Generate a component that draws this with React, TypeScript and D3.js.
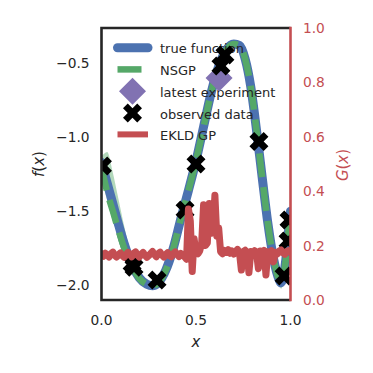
import * as d3 from 'd3'

// true function / NSGP
const gridX = [0, 0.03, 0.06, 0.09, 0.12, 0.16, 0.2, 0.24, 0.27, 0.3, 0.34, 0.38, 0.42, 0.46, 0.5, 0.54, 0.58, 0.62, 0.66, 0.7, 0.73, 0.76, 0.79, 0.82, 0.85, 0.88, 0.91, 0.94, 0.95, 0.96, 0.975, 0.99, 1.0]
const truthF = [-1.17, -1.31, -1.45, -1.59, -1.72, -1.86, -1.95, -1.995, -2.005, -1.985, -1.9, -1.75, -1.55, -1.36, -1.16, -0.93, -0.7, -0.52, -0.41, -0.37, -0.38, -0.47, -0.66, -0.95, -1.27, -1.58, -1.82, -1.965, -1.985, -1.955, -1.83, -1.63, -1.5]
const nsgpMean = [-1.2, -1.37, -1.5, -1.63, -1.75, -1.87, -1.955, -1.995, -2.005, -1.985, -1.9, -1.75, -1.55, -1.36, -1.16, -0.93, -0.7, -0.52, -0.41, -0.37, -0.38, -0.47, -0.66, -0.95, -1.27, -1.58, -1.82, -1.965, -1.985, -1.955, -1.83, -1.63, -1.5]
const nsgpHigh = [-1.13, -1.1, -1.24, -1.42, -1.6, -1.8, -1.925, -1.97, -1.98, -1.96, -1.875, -1.725, -1.525, -1.335, -1.135, -0.905, -0.675, -0.495, -0.385, -0.345, -0.355, -0.445, -0.635, -0.925, -1.245, -1.555, -1.79, -1.93, -1.945, -1.91, -1.79, -1.6, -1.46]
const nsgpLow = [-1.26, -1.43, -1.56, -1.68, -1.79, -1.9, -1.985, -2.02, -2.03, -2.01, -1.925, -1.775, -1.575, -1.385, -1.185, -0.955, -0.725, -0.545, -0.435, -0.395, -0.405, -0.495, -0.685, -0.975, -1.295, -1.605, -1.85, -2.0, -2.025, -2.0, -1.87, -1.66, -1.54]

const obsX = [0.005, 0.162, 0.172, 0.294, 0.442, 0.5, 0.632, 0.653, 0.833, 0.966, 0.987, 0.992]
const obsF = [-1.195, -1.855, -1.88, -1.966, -1.492, -1.181, -0.518, -0.444, -1.029, -1.939, -1.702, -1.56]

const latestX = [0.622]
const latestF = [-0.599]

// EKLD GP on x = 0, 0.01, ... 1
const ekld = [
  0.168, 0.161, 0.172, 0.165, 0.158, 0.17, 0.176, 0.164, 0.158, 0.167,
  0.173, 0.163, 0.157, 0.166, 0.175, 0.168, 0.159, 0.171, 0.177, 0.165,
  0.158, 0.168, 0.175, 0.164, 0.157, 0.163, 0.171, 0.178, 0.167, 0.159,
  0.17, 0.176, 0.165, 0.158, 0.167, 0.174, 0.163, 0.159, 0.17, 0.177,
  0.167, 0.16, 0.171, 0.166, 0.158, 0.15, 0.335, 0.29, 0.105, 0.225,
  0.175, 0.17, 0.181, 0.21, 0.35, 0.2, 0.21, 0.355, 0.245, 0.25,
  0.385, 0.235, 0.265, 0.178, 0.17, 0.182, 0.175, 0.185, 0.172, 0.18,
  0.169, 0.178, 0.186, 0.174, 0.11, 0.178, 0.183, 0.175, 0.1, 0.178,
  0.17, 0.181, 0.175, 0.115, 0.18, 0.172, 0.182, 0.092, 0.177, 0.171,
  0.181, 0.14, 0.175, 0.169, 0.18, 0.184, 0.174, 0.168, 0.178, 0.182, 0.176,
]

const xTicks = [0, 0.5, 1]
const fTicks = [-2.0, -1.5, -1.0, -0.5]
const gTicks = [0, 0.2, 0.4, 0.6, 0.8, 1.0]
const legendLabels = ['true function', 'NSGP', 'latest experiment', 'observed data', 'EKLD GP']

const BLUE = '#4C72B0'
const GREEN = '#55A868'
const RED = '#C44E52'
const PURPLE = '#8172B2'
const INK = '#262626'
const FONT = 'DejaVu Sans'

const xMarker = (s: number) => {
  const pts = [[-1, -2], [0, -1], [1, -2], [2, -1], [1, 0], [2, 1], [1, 2], [0, 1], [-1, 2], [-2, 1], [-1, 0], [-2, -1]]
  return 'M' + pts.map(p => `${(p[0] * s) / 4},${(p[1] * s) / 4}`).join('L') + 'Z'
}
const diamond = (r: number) => `M0,${-r}L${r},0L0,${r}L${-r},0Z`

const fmt = (v: number) => d3.format('.1f')(v).replace('-', '\u2212')

export default function App() {
  const x = d3.scaleLinear().domain([0, 1]).range([101.5, 290.5])
  const y = d3.scaleLinear().domain([-2.101, -0.261]).range([300, 28])
  const g = d3.scaleLinear().domain([0, 1]).range([300, 28])
  const [x0, x1] = x.range()
  const [yb, yt] = y.range()

  const truthLine = d3.line<number>().x((_, i) => x(gridX[i])).y(d => y(d)).curve(d3.curveMonotoneX)
  const band = d3.area<number>()
    .x((_, i) => x(gridX[i]))
    .y0((_, i) => y(nsgpLow[i]))
    .y1(d => y(d))
    .curve(d3.curveMonotoneX)
  const ekldLine = d3.line<number>().x((_, i) => x(i / 100)).y(d => g(d))

  const legendY = [47.7, 69.4, 91.2, 113, 134.4]
  const hx0 = 117.5, hx1 = 148, hc = 132.5

  return (
    <svg width={373} height={373} style={{ position: 'absolute', left: 0, top: 0 }} fontFamily={FONT}>
      <defs>
        <clipPath id="plot"><rect x={x0} y={yt} width={x1 - x0} height={yb - yt} /></clipPath>
      </defs>
      <rect width={373} height={373} fill="#fff" />

      <g clipPath="url(#plot)">
        <path d={band(nsgpHigh) || ''} fill={GREEN} opacity={0.45} />
        <path d={truthLine(truthF) || ''} fill="none" stroke={BLUE} strokeWidth={9} strokeLinecap="round" />
        <path d={truthLine(nsgpMean) || ''} fill="none" stroke={GREEN} strokeWidth={6.5} strokeDasharray="24 10" />
      </g>

      {/* legend */}
      <g fontSize={13} fill={INK}>
        <line x1={hx0} x2={hx1} y1={legendY[0]} y2={legendY[0]} stroke={BLUE} strokeWidth={9} strokeLinecap="round" />
        <line x1={hx0} x2={hx1} y1={legendY[1]} y2={legendY[1]} stroke={GREEN} strokeWidth={6.5} strokeDasharray="24 10" />
        <path d={diamond(13.5)} transform={`translate(${hc},${legendY[2]})`} fill={PURPLE} />
        <path d={xMarker(19)} transform={`translate(${hc},${legendY[3]})`} fill="#000" />
        <line x1={hx0} x2={hx1} y1={legendY[4]} y2={legendY[4]} stroke={RED} strokeWidth={6} />
        {legendLabels.map((t, i) => (
          <text key={t} x={160} y={legendY[i] + 5.5}>{t}</text>
        ))}
      </g>

      <g clipPath="url(#plot)">
        {latestX.map((v, i) => (
          <path key={i} d={diamond(13.5)} transform={`translate(${x(v)},${y(latestF[i])})`} fill={PURPLE} />
        ))}
        {obsX.map((v, i) => (
          <path key={i} d={xMarker(19)} transform={`translate(${x(v)},${y(obsF[i])})`} fill="#000" />
        ))}
        <path d={ekldLine(ekld) || ''} fill="none" stroke={RED} strokeWidth={7} strokeLinejoin="round" strokeLinecap="square" />
      </g>

      {/* frame */}
      <path d={`M${x1},${yt}H${x0}V${yb}H${x1}`} fill="none" stroke={INK} strokeWidth={2.6} />
      <line x1={x1} x2={x1} y1={yt - 1.3} y2={yb + 1.3} stroke={RED} strokeWidth={2.6} />

      {/* axes text */}
      <g fontSize={13.75} fill={INK}>
        {xTicks.map(t => (
          <text key={t} x={x(t)} y={325} textAnchor="middle">{fmt(t)}</text>
        ))}
        {fTicks.map(t => (
          <text key={t} x={89.5} y={y(t) + 5} textAnchor="end">{fmt(t)}</text>
        ))}
      </g>
      <g fontSize={13.75} fill={RED}>
        {gTicks.map(t => (
          <text key={t} x={303} y={g(t) + 5} textAnchor="start">{fmt(t)}</text>
        ))}
      </g>
      <g fontSize={15}>
        <text x={196} y={347} textAnchor="middle" fill={INK} fontStyle="italic">x</text>
        <text transform="translate(44,164) rotate(-90)" textAnchor="middle" fill={INK}>
          <tspan fontStyle="italic">f</tspan>(<tspan fontStyle="italic">x</tspan>)
        </text>
        <text transform="translate(348,165) rotate(-90)" textAnchor="middle" fill={RED}>
          <tspan fontStyle="italic">G</tspan>(<tspan fontStyle="italic">x</tspan>)
        </text>
      </g>
    </svg>
  )
}
